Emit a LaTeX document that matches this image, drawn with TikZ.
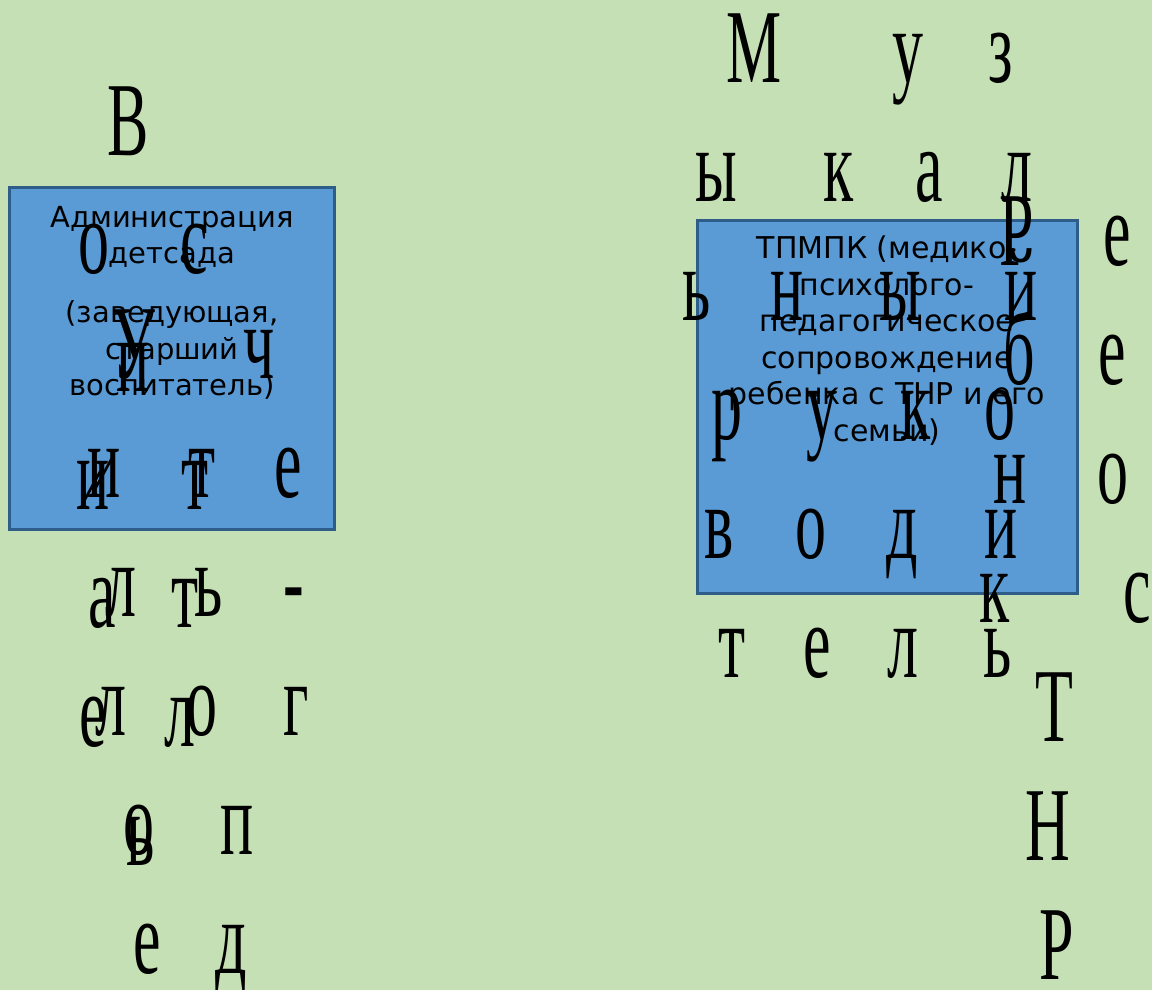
\documentclass[tikz,border=0pt]{standalone}
\usepackage{fontspec}
\usepackage{tikz}
\newfontfamily\glyphfont[FakeStretch=0.59]{Liberation Serif}
\newfontfamily\boxfont{DejaVu Sans}
\definecolor{bggreen}{HTML}{C5E0B4}
\definecolor{boxblue}{HTML}{5B9BD5}
\definecolor{boxline}{HTML}{2F5D8A}

\begin{document}
\begin{tikzpicture}[
  x=1pt, y=-1pt,
  box/.style={draw=boxline, fill=boxblue, line width=3pt, minimum width=#1},
  boxtext/.style={font=\boxfont\fontsize{#1}{36.6}\selectfont, align=center, inner sep=0pt, anchor=north},
  glyph/.style={font=\glyphfont\fontsize{105}{105}\selectfont, inner sep=0pt, anchor=base},
]
% page
\fill[bggreen] (0,0) rectangle (1152,990);
\useasboundingbox (0,0) rectangle (1152,990);

% the two boxes
\node[box=325pt, minimum height=342pt] (admin) at (171.5,358) {};
\node[box=380pt, minimum height=373pt] (tpmpk) at (887,406.5) {};
\node[boxtext=29] (admintext) at (172,206) {Администрация\\детсада\\[22pt](заведующая,\\старший\\воспитатель)};
\node[boxtext=30] (tpmpktext) at (887,235.5) {ТПМПК (медико-\\психолого-\\педагогическое\\сопровождение\\ребенка с ТНР и его\\семьи)};

% left column: two words laid over each other
\foreach \ch/\x/\y [count=\i] in {В/128/155, о/94/273, с/194/273, п/133/391, и/93/509, т/195/509, а/102/627, т/185/627, е/93/746, л/180/746, ь/141/865}
  \node[glyph] (vos\i) at (\x,\y) {\ch};
\foreach \ch/\x/\y [count=\i] in {У/133/378, ч/259/378, и/104/497, т/202/497, е/288/497, л/121/616, ь/209/616, -/294/616, л/111/735, о/202/735, г/296/735, о/139/854, п/237/854, е/147/973, д/231/973}
  \node[glyph] (uch\i) at (\x,\y) {\ch};

% right column
\foreach \ch/\x/\y [count=\i] in {М/754/82, у/908/82, з/1001/82, ы/716/201, к/839/201, а/929/201, л/1017/201, ь/697/320, н/787/320, ы/900/320, й/1021/320, р/727/439, у/822/439, к/916/439, о/1000/439, в/719/558, о/811/558, д/902/558, и/1001/558, т/732/677, е/817/677, л/903/677, ь/998/677}
  \node[glyph] (muz\i) at (\x,\y) {\ch};
\foreach \ch/\x/\y [count=\i] in {Р/1017/265, е/1117/265, б/1019/384, е/1112/384, н/1010/503, о/1113/503, к/995/622, с/1137/622, Т/1054/741, Н/1048/860, Р/1057/979}
  \node[glyph] (reb\i) at (\x,\y) {\ch};
\end{tikzpicture}
\end{document}
